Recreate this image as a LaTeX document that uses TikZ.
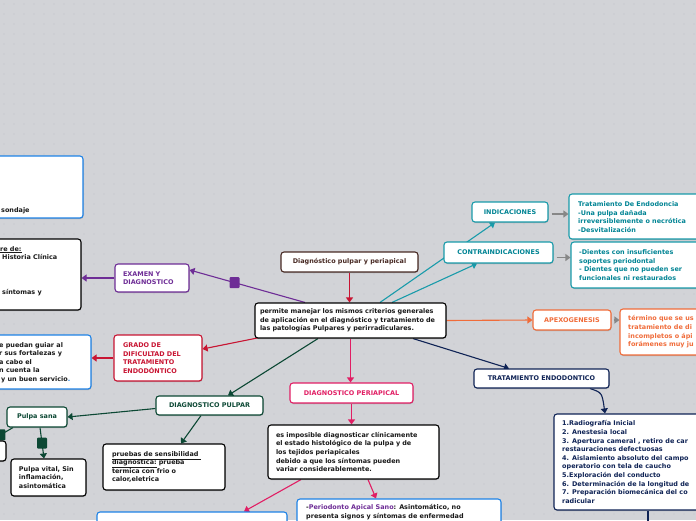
\documentclass[tikz,border=0pt]{standalone}
\usepackage{fontspec}
\setmainfont{DejaVu Sans}
\usetikzlibrary{arrows.meta,shadows}
\pgfdeclarelayer{bglayer}
\pgfdeclarelayer{edgelayer}
\pgfsetlayers{bglayer,edgelayer,main}
\definecolor{cbg}{RGB}{210,211,215}
\definecolor{cdot}{RGB}{192,193,198}
\definecolor{cpurple}{RGB}{110,45,150}
\definecolor{cred}{RGB}{200,20,50}
\definecolor{cgreen}{RGB}{12,72,52}
\definecolor{cteal}{RGB}{25,155,170}
\definecolor{ctealt}{RGB}{0,132,148}
\definecolor{cnavy}{RGB}{15,35,85}
\definecolor{corange}{RGB}{240,108,58}
\definecolor{cpink}{RGB}{225,30,100}
\definecolor{cblue}{RGB}{30,130,230}
\definecolor{cbrown}{RGB}{72,42,36}
\definecolor{cgray}{RGB}{135,135,135}
\definecolor{cdark}{RGB}{25,25,25}
\tikzset{
  fnt/.style={font=\fontsize{6.45}{8.6}\selectfont\bfseries},
  box/.style={draw=#1, line width=1.1pt, rounded corners=3pt, fill=white, inner sep=0pt, fnt, text=cdark,
    drop shadow={shadow xshift=0.5pt, shadow yshift=-1pt, opacity=0.3, fill=black!70}},
  txt/.style={inner sep=0pt, fnt, align=left, anchor=north west, text=cdark},
  con/.style={draw=#1, line width=1.1pt, -{Triangle[length=5pt,width=7pt]}},
  plainline/.style={draw=#1, line width=1.1pt},
  sqmark/.style={fill=#1, draw=none, rounded corners=1pt, minimum width=10pt, minimum height=11pt, inner sep=0pt},
}
\begin{document}
\begin{tikzpicture}[x=1pt,y=-1pt]
\useasboundingbox (0,0) rectangle (696,520);
\begin{pgfonlayer}{bglayer}
\fill[cbg] (0,0) rectangle (696,520);
\foreach \i in {0,...,69}{\foreach \j in {0,...,52}{\fill[cdot] (\i*10+4,\j*10+4) circle (0.6);}}
\end{pgfonlayer}

% ---- nodes ----
\node[box=black, minimum width=191pt, minimum height=35pt, text width=181pt, align=left] (main) at (350.5,320.5)
 {permite manejar los mismos criterios generales\\de aplicación en el diagnóstico y tratamiento de\\las patologías Pulpares y perirradiculares.};
\node[box=cbrown, minimum width=137pt, minimum height=20pt, text=cbrown] (dpp) at (349.5,262) {Diagnóstico pulpar y periapical};

\node[box=cpurple, minimum width=74pt, minimum height=28pt, text width=58pt, align=left, text=cpurple] (exam) at (152,278) {EXAMEN Y\\DIAGNOSTICO};
\node[box=cred, minimum width=88pt, minimum height=46pt, text width=70pt, align=left, text=cred] (grado) at (158,358) {GRADO DE\\DIFICULTAD DEL\\TRATAMIENTO\\ENDODÓNTICO};

\node[box=cblue, minimum width=103pt, minimum height=62pt] (bl1) at (31.5,187) {};
\node[txt, anchor=base west] (bl1t) at (1,212) {sondaje};
\node[box=black, minimum width=101pt, minimum height=71pt] (bk2) at (30.5,274.5) {};
\node[txt] (bk2t) at (0,246) {\underline{re de:}\\\hspace{2pt}Historia Clínica\\\mbox{}\\\mbox{}\\\mbox{}\\\hspace{2pt}síntomas y};
\node[box=cblue, minimum width=111pt, minimum height=54pt] (bl3) at (35.5,362) {};
\node[txt] (bl3t) at (-1,342) {e puedan guiar al\\r sus fortalezas y\\a cabo el\\n cuenta la\\\hspace{2pt}y un buen servicio\textcolor{cblue}{.}};

\node[box=cteal, minimum width=76pt, minimum height=20pt, text=ctealt] (ind) at (510,212) {INDICACIONES};
\node[box=cteal, minimum width=109pt, minimum height=21pt, text=ctealt] (con) at (498.5,252.5) {CONTRAINDICACIONES};
\node[box=cteal, minimum width=151pt, minimum height=45pt] (indtxt) at (644.5,216.5) {};
\node[txt, text=ctealt] (indt) at (578,201.5) {Tratamiento De Endodoncia\\-Una pulpa dañada\\irreversiblemente o necrótica\\-Desvitalización};
\node[box=cteal, minimum width=149pt, minimum height=46pt] (contxt) at (645.5,265) {};
\node[txt, text=ctealt] (cont) at (579,249.5) {-Dientes con insuficientes\\soportes periodontal\\- Dientes que no pueden ser\\funcionales ni restaurados};

\node[box=corange, minimum width=78pt, minimum height=20pt, text=corange] (apexo) at (572,320) {APEXOGENESIS};
\node[box=corange, minimum width=100pt, minimum height=46pt] (apxtxt) at (670,332) {};
\node[txt, text=corange] (apxt) at (628,315.5) {término que se us\\tratamiento de di\\incompletos o ápi\\forámenes muy ju};

\node[box=cnavy, minimum width=135pt, minimum height=19pt, text=cnavy] (trat) at (541.5,378.5) {TRATAMIENTO ENDODONTICO};
\node[box=cnavy, minimum width=166pt, minimum height=96pt] (list) at (637,462) {};
\node[txt, text=cnavy] (listt) at (562,420.5) {1.Radiografía Inicial\\2. Anestesia local\\3. Apertura cameral , retiro de car\\restauraciones defectuosas\\4. Aislamiento absoluto del campo\\operatorio con tela de caucho\\5.Exploración del conducto\\6. Determinación de la longitud de\\7. Preparación biomecánica del co\\radicular};
\coordinate (lend) at (648,526);

\node[box=cpink, minimum width=123pt, minimum height=20pt, text=cpink] (dperi) at (351.5,393) {DIAGNOSTICO PERIAPICAL};
\node[box=black, minimum width=171pt, minimum height=54pt, text width=155pt, align=left] (peri) at (353.5,452)
 {es imposible diagnosticar clínicamente\\el estado histológico de la pulpa y de\\los tejidos periapicales\\debido a que los síntomas pueden\\variar considerablemente.};
\node[box=cblue, minimum width=190pt, minimum height=36pt] (blb) at (192,530) {};
\node[box=cblue, minimum width=204pt, minimum height=52pt] (perb) at (399,525) {};
\node[txt] (perbt) at (306,504.5) {-\textcolor{cpurple}{Periodonto Apical Sano}: Asintomático, no\\presenta signos y síntomas de enfermedad};

\node[box=cgreen, minimum width=107pt, minimum height=19pt, text=cgreen] (dpulp) at (209.5,405.5) {DIAGNOSTICO PULPAR};
\node[box=black, minimum width=122pt, minimum height=46pt, text width=104pt, align=left] (prue) at (164,467)
 {\underline{pruebas de sensibilidad\ }\\\underline{diagnostica:} prueba\\termica con frio o\\calor,eletrica};
\node[box=cgreen, minimum width=60pt, minimum height=20pt, text=cgreen] (sana) at (37,417) {Pulpa sana};
\node[box=black, minimum width=75pt, minimum height=37pt, text width=59pt, align=left] (vital) at (48.5,477.5) {Pulpa vital, Sin\\inflamación,\\asintomática};
\node[box=black, minimum width=18pt, minimum height=20pt] (lbox) at (-3,451) {};

% ---- connectors ----
\begin{pgfonlayer}{edgelayer}
\draw[con=cpurple] ([xshift=-45.5pt]main.north) -- node[sqmark=cpurple, pos=0.61] (m1) {} ([yshift=8pt]exam.east);
\draw[con=cpurple] (exam.west) -- (exam.west -| bk2.east);
\draw[con=cred] ([xshift=15pt,yshift=3pt]main.south west) -- ([yshift=9pt]grado.east);
\draw[con=cred] (grado.west) -- (grado.west -| bl3.east);
\draw[con=cred] (dpp.south) -- (dpp.south |- main.north);
\draw[con=cteal] ([xshift=29.5pt]main.north) -- ([xshift=-15pt]ind.south);
\draw[con=cteal] ([xshift=41.5pt]main.north) -- ([xshift=-21.5pt]con.south);
\coordinate (c1) at ([yshift=-2pt]ind.east);
\coordinate (c2) at ([yshift=-5pt]con.east);
\draw[con=cgray, shorten <=3pt] (c1) -- (c1 -| indtxt.west);
\draw[con=cgray, shorten <=3pt] (c2) -- (c2 -| contxt.west);
\draw[con=corange] (main.east) -- (apexo.west);
\draw[con=cgray, shorten <=2pt] (apexo.east) -- (apexo.east -| apxtxt.west);
\draw[con=cnavy] ([xshift=62.5pt]main.south) -- ([xshift=-32.5pt]trat.north);
\draw[con=cnavy] ([xshift=48.5pt]trat.south) .. controls +(12,4) .. ([xshift=-32pt]list.north);
\draw[plainline=cnavy] ([xshift=11pt]list.south) -- (lend);
\draw[con=cpink] (main.south) -- (main.south |- dperi.north);
\draw[con=cpink] (dperi.south) -- (dperi.south |- peri.north);
\draw[con=cpink] ([xshift=-52.5pt]peri.south) -- ([xshift=52pt]blb.north);
\draw[con=cpink] ([xshift=14.5pt]peri.south) -- ([xshift=-23pt]perb.north);
\draw[con=cgreen] ([xshift=-32.5pt]main.south) -- ([xshift=18.5pt]dpulp.north);
\draw[con=cgreen] ([xshift=-8.5pt]dpulp.south) -- ([xshift=17pt]prue.north);
\draw[con=cgreen] ([yshift=-3pt]dpulp.west) -- (sana.east);
\draw[con=cgreen] ([xshift=3pt]sana.south) -- node[sqmark=cgreen, pos=0.5] (m2) {} ([xshift=-4.5pt]vital.north);
\draw[con=cgreen] ([xshift=-24pt]sana.south) -- node[sqmark=cgreen, pos=0.57] (m3) {} ([xshift=-6pt]lbox.north);
\end{pgfonlayer}
\end{tikzpicture}
\end{document}
